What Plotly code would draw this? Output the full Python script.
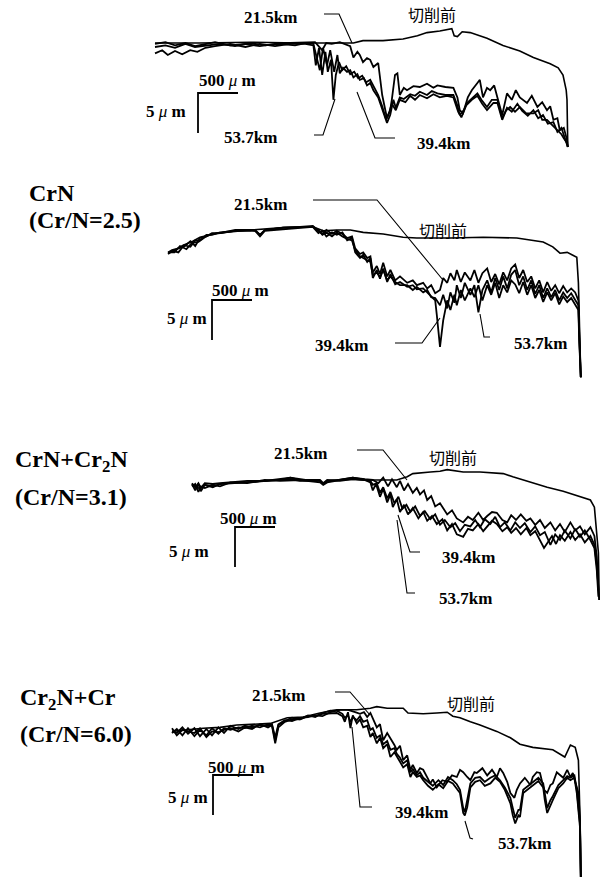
import plotly.graph_objects as go

# ---------------------------------------------------------------------------
# Worn-surface profiles of CrN-based coatings after cutting.
# Position along the profile in mm, surface height in um.
# ---------------------------------------------------------------------------

DISTANCES = ["21.5km", "39.4km", "53.7km"]
BEFORE_LABEL = "切削前"
COATINGS = [None, ("CrN", "(Cr/N=2.5)"), ("CrN+Cr<sub>2</sub>N", "(Cr/N=3.1)"),
            ("Cr<sub>2</sub>N+Cr", "(Cr/N=6.0)")]

# ---- panel 1 ----
p1_before_x = [0, 0.56, 1.19, 1.81, 2.48, 2.6, 2.85, 3.1, 3.28, 3.4, 3.56, 3.71, 3.74, 3.78, 3.84,
               3.94, 4.15, 4.35, 4.56, 4.73, 4.94, 5.04, 5.1, 5.14, 5.15, 5.16]
p1_before_h = [0, 0, 0.1, 0, 0, 0.3, 0.3, 0.5, 0.9, 1.3, 1.5, 1.8, 0.9, 0.8, 1.4,
               1.3, 0.6, -0.3, -1.0, -1.8, -2.6, -3.1, -4.0, -5.9, -7.1, -13.0]
p1_215_x = [0, 0.13, 0.25, 0.38, 0.5, 0.63, 0.75, 0.94, 1.13, 1.31, 1.5, 1.69, 1.88, 2.0, 2.09, 2.14,
            2.21, 2.31, 2.44, 2.48, 2.53, 2.56, 2.6, 2.65, 2.69, 2.73, 2.79, 2.81, 2.84, 2.9, 2.94,
            2.96, 3.0, 3.03, 3.06, 3.11, 3.15, 3.23, 3.31, 3.4, 3.48, 3.53, 3.63, 3.73, 3.78, 3.81,
            3.85, 3.91, 3.96, 4.03, 4.06, 4.1, 4.15, 4.19, 4.24, 4.28, 4.34, 4.4, 4.46, 4.51, 4.56,
            4.65, 4.71, 4.78, 4.84, 4.9, 4.94, 4.98, 5.03, 5.06, 5.11, 5.15, 5.16]
p1_215_h = [-0.1, 0.1, -0.3, 0, -0.4, -0.1, 0.1, -0.3, -0.1, -0.4, -0.1, 0, 0.1, 0.1, -0.9, 0,
            -0.1, 0.1, -0.4, -1.8, -1.1, -1.5, -2.4, -1.9, -2.1, -3.0, -2.5, -4.3, -6.5, -9.4, -8.4,
            -7.1, -4.0, -3.8, -6.5, -5.6, -5.9, -5.4, -5.5, -5.1, -5.6, -5.3, -5.5, -5.6, -6.8, -8.4,
            -8.8, -6.8, -5.9, -5.0, -4.6, -6.8, -5.6, -5.9, -5.3, -6.8, -9.0, -6.3, -7.1, -5.9, -6.8,
            -7.5, -6.6, -8.0, -7.4, -8.4, -7.9, -9.6, -9.4, -10.9, -10.6, -12.1, -13.0]
p1_394_x = [0, 0.13, 0.25, 0.38, 0.5, 0.63, 0.81, 1.0, 1.19, 1.38, 1.56, 1.75, 1.88, 1.98, 2.03, 2.06,
            2.1, 2.15, 2.19, 2.24, 2.28, 2.31, 2.35, 2.4, 2.44, 2.48, 2.53, 2.56, 2.61, 2.65, 2.69,
            2.73, 2.79, 2.85, 2.9, 2.94, 2.98, 3.01, 3.06, 3.11, 3.19, 3.25, 3.31, 3.4, 3.46, 3.53,
            3.63, 3.73, 3.78, 3.81, 3.86, 3.9, 3.96, 4.03, 4.08, 4.15, 4.21, 4.28, 4.34, 4.39, 4.44,
            4.5, 4.56, 4.64, 4.73, 4.79, 4.84, 4.9, 4.95, 5.03, 5.08, 5.11, 5.15, 5.16]
p1_394_h = [-0.5, -0.3, -0.6, -0.1, -0.5, -0.3, -0.1, -0.4, 0, -0.3, -0.1, -0.3, 0, -0.1, -2.1, -3.4,
            -0.6, -2.8, -0.9, -3.6, -1.5, -3.8, -3.1, -3.6, -3.4, -4.3, -3.9, -4.6, -4.4, -5.3, -5.0,
            -5.9, -6.8, -8.4, -10.0, -9.0, -7.1, -8.1, -6.8, -7.0, -6.4, -6.6, -6.1, -6.5, -6.0, -6.3,
            -6.5, -6.5, -7.8, -9.0, -8.4, -7.5, -6.9, -6.3, -7.1, -8.0, -7.1, -7.1, -9.4, -8.4, -8.0,
            -8.6, -8.0, -8.8, -8.8, -8.4, -9.6, -9.6, -10.1, -10.9, -11.4, -11.9, -12.5, -13.0]
p1_537_x = [0, 0.09, 0.16, 0.25, 0.34, 0.44, 0.53, 0.63, 0.75, 0.94, 1.13, 1.31, 1.5, 1.69, 1.88, 1.98,
            2.01, 2.05, 2.09, 2.13, 2.16, 2.2, 2.23, 2.26, 2.3, 2.34, 2.39, 2.44, 2.49, 2.54, 2.59,
            2.64, 2.69, 2.74, 2.79, 2.84, 2.89, 2.93, 2.96, 3.01, 3.06, 3.13, 3.19, 3.25, 3.31, 3.4,
            3.48, 3.56, 3.65, 3.73, 3.79, 3.83, 3.89, 3.96, 4.03, 4.09, 4.15, 4.23, 4.28, 4.34, 4.4,
            4.46, 4.53, 4.59, 4.66, 4.73, 4.79, 4.85, 4.91, 4.98, 5.03, 5.08, 5.13, 5.16]
p1_537_h = [-1.3, -0.9, -1.5, -1.0, -1.4, -0.9, -1.1, -0.6, -0.4, -0.1, -0.5, -0.1, -0.4, -0.1, -0.1, -0.3,
            -2.8, -0.6, -4.0, -1.1, -3.6, -2.1, -7.1, -4.0, -2.4, -3.4, -2.9, -3.9, -3.6, -4.4, -4.1,
            -4.9, -4.6, -5.6, -6.5, -7.9, -9.6, -8.6, -7.6, -8.4, -7.1, -7.4, -6.6, -7.1, -6.5, -6.9,
            -6.4, -6.8, -6.6, -6.8, -8.6, -9.3, -7.8, -7.1, -6.6, -7.6, -8.4, -7.5, -7.5, -9.6, -8.1,
            -8.6, -7.6, -8.5, -9.1, -8.4, -9.4, -9.0, -10.1, -9.9, -11.1, -10.6, -12.1, -13.0]

# ---- panel 2 : CrN ----
p2_before_x = [0, 0.09, 0.19, 0.31, 0.4, 0.61, 1.03, 1.44, 1.81, 1.94, 2.11, 2.28, 2.44, 2.69, 2.94,
               3.11, 3.53, 3.94, 4.36, 4.69, 4.81, 4.9, 4.99, 5.11, 5.13, 5.15, 5.16]
p2_before_h = [-2.9, -2.5, -1.9, -1.4, -0.9, -0.4, 0, 0.3, 0.4, -0.1, 0, 0, -0.3, -0.5, -0.9,
               -1.0, -1.0, -0.9, -1.0, -1.5, -2.1, -2.9, -2.8, -3.4, -6.6, -17.1, -18.4]
p2_215_x = [0, 0.05, 0.13, 0.2, 0.28, 0.34, 0.4, 0.48, 0.55, 0.65, 0.84, 1.03, 1.09, 1.15, 1.21, 1.44,
            1.65, 1.81, 1.88, 1.93, 1.98, 2.05, 2.11, 2.18, 2.24, 2.3, 2.34, 2.4, 2.44, 2.49, 2.53,
            2.56, 2.61, 2.65, 2.69, 2.74, 2.78, 2.84, 2.9, 2.99, 3.06, 3.11, 3.19, 3.24, 3.29, 3.34,
            3.4, 3.44, 3.49, 3.53, 3.58, 3.61, 3.66, 3.71, 3.78, 3.83, 3.88, 3.93, 3.99, 4.04, 4.09,
            4.14, 4.19, 4.24, 4.29, 4.34, 4.39, 4.44, 4.49, 4.54, 4.59, 4.64, 4.69, 4.74, 4.79, 4.84,
            4.89, 4.94, 4.99, 5.04, 5.09, 5.13, 5.14, 5.16]
p2_215_h = [-2.8, -2.5, -2.3, -2.1, -1.4, -2.0, -1.0, -0.8, -0.5, -0.4, -0.1, -0.1, 0, -0.6, 0, 0.3,
            0.4, 0.5, -0.1, -0.5, 0, -0.5, -0.1, -0.5, -1.0, -0.8, -2.3, -3.0, -2.8, -3.5, -3.3,
            -5.3, -4.5, -5.5, -4.1, -5.8, -5.0, -6.3, -5.8, -6.6, -6.3, -6.9, -6.6, -7.3, -6.9, -7.9,
            -7.5, -6.0, -6.6, -5.4, -6.3, -5.0, -6.5, -5.3, -6.3, -5.0, -6.6, -5.4, -4.8, -6.5, -5.5,
            -6.8, -5.3, -6.3, -4.8, -4.3, -6.0, -5.0, -6.5, -5.8, -7.3, -6.3, -7.8, -6.5, -7.6, -6.9,
            -7.9, -7.0, -7.8, -7.3, -7.8, -8.8, -12.5, -18.4]
p2_394_x = [0, 0.06, 0.13, 0.2, 0.28, 0.34, 0.4, 0.48, 0.55, 0.65, 0.84, 1.03, 1.09, 1.15, 1.21, 1.44,
            1.65, 1.81, 1.88, 1.93, 1.98, 2.05, 2.11, 2.18, 2.24, 2.3, 2.34, 2.4, 2.44, 2.49, 2.53,
            2.56, 2.61, 2.65, 2.69, 2.74, 2.78, 2.84, 2.9, 2.99, 3.06, 3.11, 3.19, 3.24, 3.29, 3.34,
            3.36, 3.4, 3.44, 3.49, 3.53, 3.58, 3.61, 3.66, 3.71, 3.78, 3.83, 3.88, 3.93, 3.99, 4.04,
            4.09, 4.14, 4.19, 4.24, 4.29, 4.34, 4.39, 4.44, 4.49, 4.54, 4.59, 4.64, 4.69, 4.74, 4.79,
            4.84, 4.89, 4.94, 4.99, 5.04, 5.09, 5.13, 5.14, 5.16]
p2_394_h = [-3.0, -2.6, -2.8, -1.9, -2.1, -1.3, -1.3, -0.6, -0.6, -0.3, -0.1, 0, -0.1, -0.8, -0.1, 0.1,
            0.3, 0.4, -0.4, -0.1, -0.8, -0.3, -0.6, -0.3, -1.3, -1.0, -2.8, -3.5, -3.1, -4.0, -3.5,
            -6.0, -5.0, -6.1, -4.8, -6.5, -5.5, -6.8, -6.5, -7.1, -6.9, -7.4, -7.3, -7.8, -8.3, -8.8,
            -10.6, -14.6, -11.3, -8.8, -10.0, -8.1, -9.4, -7.5, -8.8, -7.3, -8.4, -6.9, -8.8, -6.9, -8.1,
            -6.6, -8.5, -6.9, -7.8, -6.3, -6.8, -7.9, -6.5, -8.1, -6.9, -8.5, -7.5, -9.0, -7.8, -8.8,
            -7.9, -9.3, -8.3, -9.0, -8.5, -9.4, -10.0, -13.8, -18.4]
p2_537_x = [0, 0.08, 0.15, 0.23, 0.3, 0.38, 0.46, 0.55, 0.65, 0.84, 1.03, 1.09, 1.15, 1.21, 1.44,
            1.65, 1.81, 1.88, 1.93, 1.98, 2.05, 2.11, 2.18, 2.24, 2.3, 2.34, 2.4, 2.44, 2.49, 2.53,
            2.56, 2.61, 2.65, 2.69, 2.74, 2.78, 2.84, 2.9, 2.99, 3.06, 3.11, 3.19, 3.24, 3.29, 3.34,
            3.4, 3.44, 3.49, 3.53, 3.58, 3.61, 3.66, 3.71, 3.78, 3.83, 3.88, 3.93, 3.99, 4.04, 4.09,
            4.14, 4.19, 4.24, 4.29, 4.34, 4.39, 4.44, 4.49, 4.54, 4.59, 4.64, 4.69, 4.74, 4.79, 4.84,
            4.89, 4.94, 4.99, 5.04, 5.09, 5.13, 5.14, 5.16]
p2_537_h = [-2.8, -2.8, -2.0, -2.4, -1.6, -1.5, -0.9, -0.4, -0.4, 0, 0, -0.1, -0.6, 0, 0.3,
            0.4, 0.4, 0, -0.6, -0.3, -0.8, -0.3, -0.8, -1.1, -1.3, -2.5, -3.3, -3.5, -3.8, -4.0,
            -5.6, -5.3, -5.9, -5.0, -6.3, -5.8, -6.5, -6.9, -6.9, -7.5, -7.1, -7.8, -7.5, -8.4, -8.5,
            -9.4, -8.1, -9.8, -7.8, -9.1, -6.9, -8.5, -6.6, -8.1, -6.9, -10.3, -7.5, -6.3, -7.8, -6.0,
            -7.5, -5.8, -7.3, -5.6, -5.0, -6.9, -5.8, -7.5, -6.3, -8.0, -6.9, -8.5, -7.3, -8.4, -7.5,
            -8.8, -7.8, -8.5, -7.9, -8.8, -9.4, -13.1, -18.4]

# ---- panel 3 : CrN+Cr2N ----
p3_before_x = [0, 0.06, 0.1, 0.16, 0.26, 0.39, 0.69, 1.1, 1.23, 1.44, 1.6, 1.64, 1.69, 1.81, 2.01,
               2.19, 2.35, 2.56, 2.69, 2.76, 2.98, 3.1, 3.19, 3.39, 3.6, 3.89, 4.01, 4.23, 4.44,
               4.64, 4.85, 4.98, 5.03, 5.06, 5.08, 5.09]
p3_before_h = [-0.6, -0.9, -1.1, -0.6, -0.8, -0.4, -0.3, 0, 0.3, 0, -0.1, -0.5, -0.1, 0, 0.3,
               0, 0, 0, 0.4, 0.8, 1.0, 1.1, 1.3, 1.0, 1.0, 0.8, 0.4, -0.3, -0.9,
               -1.4, -2.1, -2.5, -3.4, -6.3, -9.1, -15.0]
p3_215_x = [0, 0.04, 0.08, 0.11, 0.16, 0.26, 0.35, 0.48, 0.69, 0.91, 1.1, 1.23, 1.35, 1.6, 1.64, 1.69,
            1.85, 2.01, 2.16, 2.26, 2.33, 2.39, 2.45, 2.5, 2.56, 2.6, 2.65, 2.7, 2.76, 2.81, 2.85,
            2.9, 2.94, 2.99, 3.04, 3.1, 3.19, 3.25, 3.31, 3.39, 3.45, 3.51, 3.58, 3.64, 3.69, 3.75,
            3.81, 3.88, 3.94, 3.99, 4.05, 4.11, 4.18, 4.23, 4.29, 4.35, 4.41, 4.48, 4.54, 4.6, 4.66,
            4.73, 4.79, 4.85, 4.91, 4.98, 5.03, 5.06, 5.08]
p3_215_h = [-0.5, -1.3, -0.5, -1.4, -0.6, -0.9, -0.5, -0.4, -0.3, -0.1, 0, 0.1, -0.1, -0.1, -0.5, -0.1,
            0, 0.3, 0.1, 0, -0.4, 0.3, -0.8, 0.1, -0.9, -0.1, -1.3, -0.5, -1.6, -1.0, -1.8,
            -1.3, -2.5, -2.0, -3.3, -2.9, -4.3, -3.8, -4.8, -5.3, -4.6, -5.0, -4.1, -5.0, -4.5, -4.0,
            -4.1, -5.0, -5.3, -4.4, -5.0, -4.3, -5.1, -4.8, -5.6, -5.0, -6.0, -5.3, -6.3, -5.5, -6.5,
            -5.3, -6.3, -5.8, -6.8, -5.9, -7.0, -9.6, -13.8]
p3_394_x = [0, 0.04, 0.08, 0.11, 0.16, 0.26, 0.35, 0.48, 0.69, 0.91, 1.1, 1.23, 1.35, 1.6, 1.64, 1.69,
            1.85, 2.01, 2.16, 2.23, 2.26, 2.3, 2.35, 2.39, 2.44, 2.48, 2.51, 2.56, 2.6, 2.65, 2.7,
            2.76, 2.83, 2.89, 2.94, 3.0, 3.06, 3.13, 3.19, 3.25, 3.31, 3.39, 3.45, 3.51, 3.58, 3.64,
            3.69, 3.75, 3.81, 3.88, 3.94, 3.99, 4.05, 4.11, 4.18, 4.23, 4.29, 4.35, 4.4, 4.44, 4.5,
            4.55, 4.6, 4.66, 4.73, 4.79, 4.85, 4.91, 4.98, 5.03, 5.06, 5.09]
p3_394_h = [-0.8, -0.5, -1.5, -0.8, -1.0, -0.6, -0.8, -0.3, -0.4, 0, -0.1, 0, 0, -0.3, -0.6, -0.3,
            0, 0.1, 0, -0.3, -1.3, -0.5, -2.1, -1.1, -2.8, -1.8, -3.4, -2.4, -4.0, -3.1, -4.3,
            -3.5, -4.8, -4.0, -5.1, -4.5, -5.5, -4.9, -6.3, -5.5, -6.8, -7.1, -6.1, -6.3, -5.5, -6.4,
            -5.8, -5.1, -5.5, -6.4, -5.9, -6.6, -6.0, -6.8, -6.0, -6.9, -6.4, -7.5, -8.5, -7.9, -7.0,
            -8.0, -6.9, -7.6, -6.5, -7.5, -6.8, -7.8, -7.0, -8.1, -10.6, -15.0]
p3_537_x = [0, 0.04, 0.08, 0.11, 0.16, 0.26, 0.35, 0.48, 0.69, 0.91, 1.1, 1.23, 1.35, 1.6, 1.64, 1.69,
            1.85, 2.01, 2.16, 2.23, 2.26, 2.31, 2.35, 2.39, 2.44, 2.48, 2.53, 2.58, 2.63, 2.68, 2.73,
            2.79, 2.85, 2.91, 2.98, 3.04, 3.1, 3.16, 3.23, 3.29, 3.35, 3.41, 3.48, 3.54, 3.6, 3.66,
            3.73, 3.79, 3.85, 3.91, 3.98, 4.04, 4.1, 4.16, 4.23, 4.29, 4.35, 4.41, 4.48, 4.54, 4.6,
            4.66, 4.73, 4.79, 4.85, 4.91, 4.98, 5.03, 5.06, 5.08]
p3_537_h = [-0.4, -0.9, -0.4, -1.0, -0.4, -0.5, -0.4, -0.3, -0.1, -0.1, 0.1, 0.3, 0, 0, -0.4, 0,
            -0.1, 0.1, 0, -0.1, -0.6, -0.4, -1.6, -0.9, -2.3, -1.5, -2.9, -2.1, -3.6, -3.1, -4.0,
            -3.3, -4.5, -3.9, -4.9, -4.3, -5.6, -5.0, -5.9, -5.4, -6.4, -5.6, -5.8, -5.0, -5.9, -4.9,
            -5.5, -4.6, -5.9, -5.3, -6.3, -5.3, -6.0, -5.4, -6.5, -5.8, -6.9, -6.5, -8.1, -6.8, -7.5,
            -6.3, -7.3, -6.1, -7.1, -6.3, -7.5, -8.5, -11.3, -14.6]

# ---- panel 4 : Cr2N+Cr ----
p4_before_x = [0, 0.19, 0.39, 0.6, 0.81, 1.23, 1.44, 1.64, 1.85, 2.06, 2.31, 2.48, 2.56, 2.69, 2.89,
               2.95, 3.14, 3.31, 3.44, 3.51, 3.6, 3.73, 3.85, 4.06, 4.23, 4.35, 4.51, 4.76, 4.88,
               4.91, 4.98, 5.04, 5.08, 5.1, 5.11]
p4_before_h = [-2.3, -2.1, -1.9, -1.8, -1.5, -1.3, -0.6, -0.5, 0, 0.4, 0.4, 0.6, 0.8, 0.6, 0.6,
               0, -0.1, 0, 0.1, -0.4, -0.6, -1.1, -1.5, -2.3, -3.1, -3.9, -4.3, -4.6, -5.3,
               -5.5, -4.0, -4.3, -5.9, -13.0, -20.5]
p4_215_x = [0, 0.06, 0.13, 0.2, 0.28, 0.35, 0.43, 0.5, 0.58, 0.65, 0.73, 0.83, 0.91, 1.0, 1.1, 1.2,
            1.25, 1.29, 1.33, 1.41, 1.5, 1.6, 1.7, 1.79, 1.88, 1.98, 2.1, 2.2, 2.29, 2.35, 2.4,
            2.44, 2.48, 2.51, 2.56, 2.6, 2.64, 2.69, 2.73, 2.78, 2.81, 2.85, 2.89, 2.94, 2.98, 3.01,
            3.06, 3.1, 3.14, 3.19, 3.23, 3.26, 3.31, 3.38, 3.44, 3.5, 3.56, 3.6, 3.64, 3.69, 3.73,
            3.78, 3.81, 3.88, 3.94, 4.0, 4.06, 4.1, 4.14, 4.19, 4.23, 4.28, 4.31, 4.35, 4.41, 4.48,
            4.51, 4.56, 4.6, 4.65, 4.69, 4.73, 4.76, 4.81, 4.85, 4.89, 4.94, 4.98, 5.01, 5.05, 5.08,
            5.1, 5.11]
p4_215_h = [-2.3, -2.5, -1.8, -2.6, -1.9, -2.9, -2.0, -2.8, -1.8, -2.5, -1.6, -2.0, -1.6, -1.8, -1.5, -1.6,
            -1.4, -3.1, -1.4, -0.9, -1.0, -0.6, -0.5, -0.3, -0.4, 0.1, 0.4, 0.4, 0.1, -0.1, 0.1,
            -0.5, 0, -0.6, -1.8, -1.4, -3.4, -2.5, -3.1, -4.0, -4.6, -4.1, -5.9, -5.3, -7.1, -6.5,
            -7.5, -6.9, -7.1, -8.1, -8.8, -8.3, -9.3, -8.4, -8.6, -7.8, -8.0, -7.1, -7.4, -8.0, -8.4,
            -7.4, -7.5, -6.9, -7.8, -7.1, -8.0, -6.9, -7.5, -8.6, -10.0, -10.6, -9.6, -8.8, -8.1, -9.0,
            -8.0, -7.4, -7.5, -9.6, -10.0, -9.0, -8.8, -7.4, -7.8, -8.1, -7.1, -8.0, -7.5, -9.0, -10.0,
            -13.4, -20.5]
p4_394_x = [0, 0.06, 0.13, 0.2, 0.28, 0.35, 0.43, 0.5, 0.58, 0.65, 0.73, 0.83, 0.91, 1.0, 1.1, 1.2,
            1.25, 1.29, 1.33, 1.41, 1.5, 1.6, 1.7, 1.79, 1.88, 1.98, 2.06, 2.13, 2.16, 2.2, 2.23,
            2.26, 2.31, 2.35, 2.39, 2.44, 2.48, 2.51, 2.56, 2.6, 2.64, 2.69, 2.73, 2.78, 2.81, 2.85,
            2.89, 2.94, 2.98, 3.01, 3.06, 3.1, 3.14, 3.2, 3.26, 3.33, 3.39, 3.45, 3.51, 3.56, 3.6,
            3.64, 3.66, 3.69, 3.73, 3.79, 3.85, 3.91, 3.98, 4.04, 4.1, 4.16, 4.23, 4.26, 4.29, 4.33,
            4.35, 4.39, 4.45, 4.51, 4.58, 4.64, 4.66, 4.69, 4.73, 4.76, 4.83, 4.89, 4.94, 4.98, 5.03,
            5.06, 5.1, 5.11]
p4_394_h = [-2.5, -2.0, -2.8, -1.9, -2.9, -2.1, -2.8, -1.9, -2.6, -1.9, -2.1, -1.8, -1.9, -1.6, -1.8, -1.4,
            -1.6, -3.8, -1.8, -1.1, -0.8, -0.8, -0.4, -0.4, -0.1, 0, 0, -0.4, -1.1, 0.1, -1.9,
            -0.3, -1.3, -0.8, -1.8, -1.6, -3.0, -2.5, -3.8, -3.1, -4.4, -3.9, -5.5, -4.9, -5.5, -6.1,
            -6.8, -6.4, -8.0, -7.4, -8.0, -7.8, -8.4, -9.1, -9.6, -8.9, -9.4, -8.5, -8.8, -9.4, -10.0,
            -12.5, -12.8, -11.8, -9.3, -8.6, -8.4, -9.1, -8.8, -8.1, -8.6, -9.6, -11.3, -12.8, -13.8, -12.8,
            -13.0, -10.0, -9.5, -9.0, -8.5, -9.3, -10.9, -12.5, -11.5, -10.9, -9.4, -8.8, -8.1, -8.4, -8.1,
            -10.0, -14.3, -20.5]
p4_537_x = [0, 0.06, 0.13, 0.2, 0.28, 0.35, 0.43, 0.5, 0.58, 0.65, 0.73, 0.83, 0.91, 1.0, 1.1, 1.2,
            1.25, 1.29, 1.33, 1.41, 1.5, 1.6, 1.7, 1.79, 1.88, 1.98, 2.06, 2.13, 2.16, 2.2, 2.23,
            2.26, 2.31, 2.35, 2.39, 2.44, 2.48, 2.51, 2.56, 2.6, 2.64, 2.69, 2.73, 2.78, 2.81, 2.85,
            2.89, 2.94, 2.98, 3.01, 3.06, 3.1, 3.14, 3.2, 3.26, 3.33, 3.39, 3.45, 3.51, 3.56, 3.6,
            3.64, 3.66, 3.69, 3.73, 3.79, 3.85, 3.91, 3.98, 4.04, 4.1, 4.16, 4.23, 4.26, 4.29, 4.33,
            4.35, 4.39, 4.45, 4.51, 4.58, 4.64, 4.66, 4.69, 4.73, 4.76, 4.83, 4.89, 4.94, 4.98, 5.03,
            5.06, 5.1, 5.11]
p4_537_h = [-1.9, -2.8, -2.1, -2.3, -2.5, -1.9, -3.0, -2.3, -2.4, -2.1, -1.9, -2.3, -1.8, -2.0, -1.4, -1.8,
            -1.5, -3.4, -1.5, -1.0, -0.6, -0.8, -0.3, -0.5, 0, 0.3, 0.3, -0.1, -0.6, -0.3, -1.1,
            -0.5, -0.9, -0.4, -1.1, -0.9, -2.1, -1.9, -3.1, -2.8, -3.9, -3.5, -4.6, -4.4, -5.1, -5.6,
            -6.3, -5.9, -7.4, -7.0, -7.8, -7.4, -8.1, -8.6, -9.1, -8.4, -9.0, -8.0, -8.4, -8.9, -9.6,
            -11.9, -12.4, -10.9, -8.8, -8.1, -8.0, -8.6, -8.1, -7.8, -8.4, -9.3, -10.6, -11.9, -13.1, -12.1,
            -12.1, -9.6, -9.1, -8.6, -8.1, -8.8, -10.3, -11.9, -10.9, -10.4, -9.0, -8.4, -7.9, -8.1, -7.8,
            -9.6, -13.8, -20.5]

BEFORE = [(p1_before_x, p1_before_h), (p2_before_x, p2_before_h),
          (p3_before_x, p3_before_h), (p4_before_x, p4_before_h)]
WORN = [
    [(p1_215_x, p1_215_h), (p1_394_x, p1_394_h), (p1_537_x, p1_537_h)],
    [(p2_215_x, p2_215_h), (p2_394_x, p2_394_h), (p2_537_x, p2_537_h)],
    [(p3_215_x, p3_215_h), (p3_394_x, p3_394_h), (p3_537_x, p3_537_h)],
    [(p4_215_x, p4_215_h), (p4_394_x, p4_394_h), (p4_537_x, p4_537_h)],
]

# ---------------------------------------------------------------------------
# Page layout (pixels)
# ---------------------------------------------------------------------------
W, H = 600, 878
PX_PER_MM = 80.0     # horizontal magnification: 0.5 mm -> 40 px
PX_PER_UM = 8.0      # vertical magnification:   5 um  -> 40 px

# profile origin (px), height zero (px) and the vertical band of each panel
PANELS = [
    dict(x0=155, y0=43, top=0, bottom=165),
    dict(x0=168, y0=230, top=165, bottom=400),
    dict(x0=192, y0=480, top=400, bottom=640),
    dict(x0=172, y0=713, top=640, bottom=878),
]
# corner of the scale bars (px)
SCALE_CORNER = [(198, 93), (212, 300), (235, 527), (213, 775)]
SCALE_TEXT = [((227, 80), (166, 111)), ((240, 290), (187, 318)),
              ((248, 518), (189, 551)), ((236, 767), (188, 797))]
# label centres (px): 21.5, 39.4, 53.7, before
LABEL_POS = [
    [(270, 18), (443, 143), (250, 137), (432, 14)],
    [(260, 204), (342, 345), (540, 343), (443, 230)],
    [(300, 453), (468, 557), (465, 598), (453, 457)],
    [(278, 695), (421, 812), (524, 843), (471, 703)],
]
# leader lines (px polylines): 21.5, 39.4, 53.7
LEADERS = [
    [[(324, 14), (339, 14), (352, 43)], [(395, 138), (375, 138), (357, 92)],
     [(314, 135), (323, 135), (335, 99)]],
    [[(313, 200), (377, 200), (443, 280)], [(395, 343), (422, 343), (440, 318)],
     [(490, 337), (484, 337), (480, 314)]],
    [[(357, 450), (383, 450), (407, 480)], [(420, 552), (410, 552), (398, 515)],
     [(415, 593), (407, 593), (397, 520)]],
    [[(335, 692), (350, 692), (370, 715)], [(372, 807), (360, 807), (352, 727)],
     [(473, 839), (470, 838), (465, 821)]],
]
COATING_POS = [None, ((27, 193), (27, 220)), ((13, 461), (13, 497)), ((18, 699), (18, 734))]

SERIF = "Liberation Serif"
CJK = "Noto Sans CJK JP"


def px(xp, yp):
    return xp / W, 1 - yp / H


fig = go.Figure()
annotations = []
shapes = []

for i, pan in enumerate(PANELS):
    n = i + 1
    xa = "x" if n == 1 else f"x{n}"
    ya = "y" if n == 1 else f"y{n}"
    xname = "xaxis" if n == 1 else f"xaxis{n}"
    yname = "yaxis" if n == 1 else f"yaxis{n}"

    bx, bh = BEFORE[i]
    fig.add_trace(go.Scatter(x=bx, y=bh, mode="lines", xaxis=xa, yaxis=ya,
                             line=dict(color="black", width=1.6),
                             hoverinfo="skip", showlegend=False))
    for wx, wh in WORN[i]:
        fig.add_trace(go.Scatter(x=wx, y=wh, mode="lines", xaxis=xa, yaxis=ya,
                                 line=dict(color="black", width=1.8),
                                 hoverinfo="skip", showlegend=False))

    x_rng = [-pan["x0"] / PX_PER_MM, (W - pan["x0"]) / PX_PER_MM]
    y_rng = [(pan["y0"] - pan["bottom"]) / PX_PER_UM, (pan["y0"] - pan["top"]) / PX_PER_UM]
    fig.update_layout(**{
        xname: dict(domain=[0, 1], range=x_rng, visible=False, anchor=ya, fixedrange=True),
        yname: dict(domain=[1 - pan["bottom"] / H, 1 - pan["top"] / H], range=y_rng,
                    visible=False, anchor=xa, fixedrange=True),
    })

    # scale bar: 500 um across, 5 um down, in the panel's own units
    cx = (SCALE_CORNER[i][0] - pan["x0"]) / PX_PER_MM
    cy = (pan["y0"] - SCALE_CORNER[i][1]) / PX_PER_UM
    shapes.append(dict(type="path", xref=xa, yref=ya,
                       path=f"M {cx + 0.5} {cy} L {cx} {cy} L {cx} {cy - 5}",
                       line=dict(color="black", width=1.8)))
    (tx1, ty1), (tx2, ty2) = SCALE_TEXT[i]
    for (tx, ty), txt in (((tx1, ty1), "<b>500</b> <i>μ</i> <b>m</b>"),
                          ((tx2, ty2), "<b>5</b> <i>μ</i> <b>m</b>")):
        ax_, ay_ = px(tx, ty)
        annotations.append(dict(x=ax_, y=ay_, xref="paper", yref="paper", text=txt,
                                showarrow=False, xanchor="center", yanchor="middle",
                                font=dict(family=SERIF, size=17, color="black")))

    # distance labels and the 切削前 label
    for k, txt in enumerate(DISTANCES + [BEFORE_LABEL]):
        lx, ly = px(*LABEL_POS[i][k])
        if k < 3:
            font = dict(family=SERIF, size=17, color="black")
            txt = f"<b>{txt}</b>"
        else:
            font = dict(family=CJK, size=16, color="black")
        annotations.append(dict(x=lx, y=ly, xref="paper", yref="paper", text=txt,
                                showarrow=False, xanchor="center", yanchor="middle", font=font))

    for pts in LEADERS[i]:
        path = " ".join(("M" if j == 0 else "L") + " {:.5f} {:.5f}".format(*px(*p))
                        for j, p in enumerate(pts))
        shapes.append(dict(type="path", xref="paper", yref="paper", path=path,
                           line=dict(color="black", width=1.1)))

    if COATINGS[i] is not None:
        for (cxp, cyp), txt in zip(COATING_POS[i], COATINGS[i]):
            ax_, ay_ = px(cxp, cyp)
            annotations.append(dict(x=ax_, y=ay_, xref="paper", yref="paper",
                                    text=f"<b>{txt}</b>", showarrow=False,
                                    xanchor="left", yanchor="middle",
                                    font=dict(family=SERIF, size=24, color="black")))

fig.update_layout(width=W, height=H, margin=dict(l=0, r=0, t=0, b=0),
                  paper_bgcolor="white", plot_bgcolor="white",
                  annotations=annotations, shapes=shapes, showlegend=False)

fig.write_html("out.html")
